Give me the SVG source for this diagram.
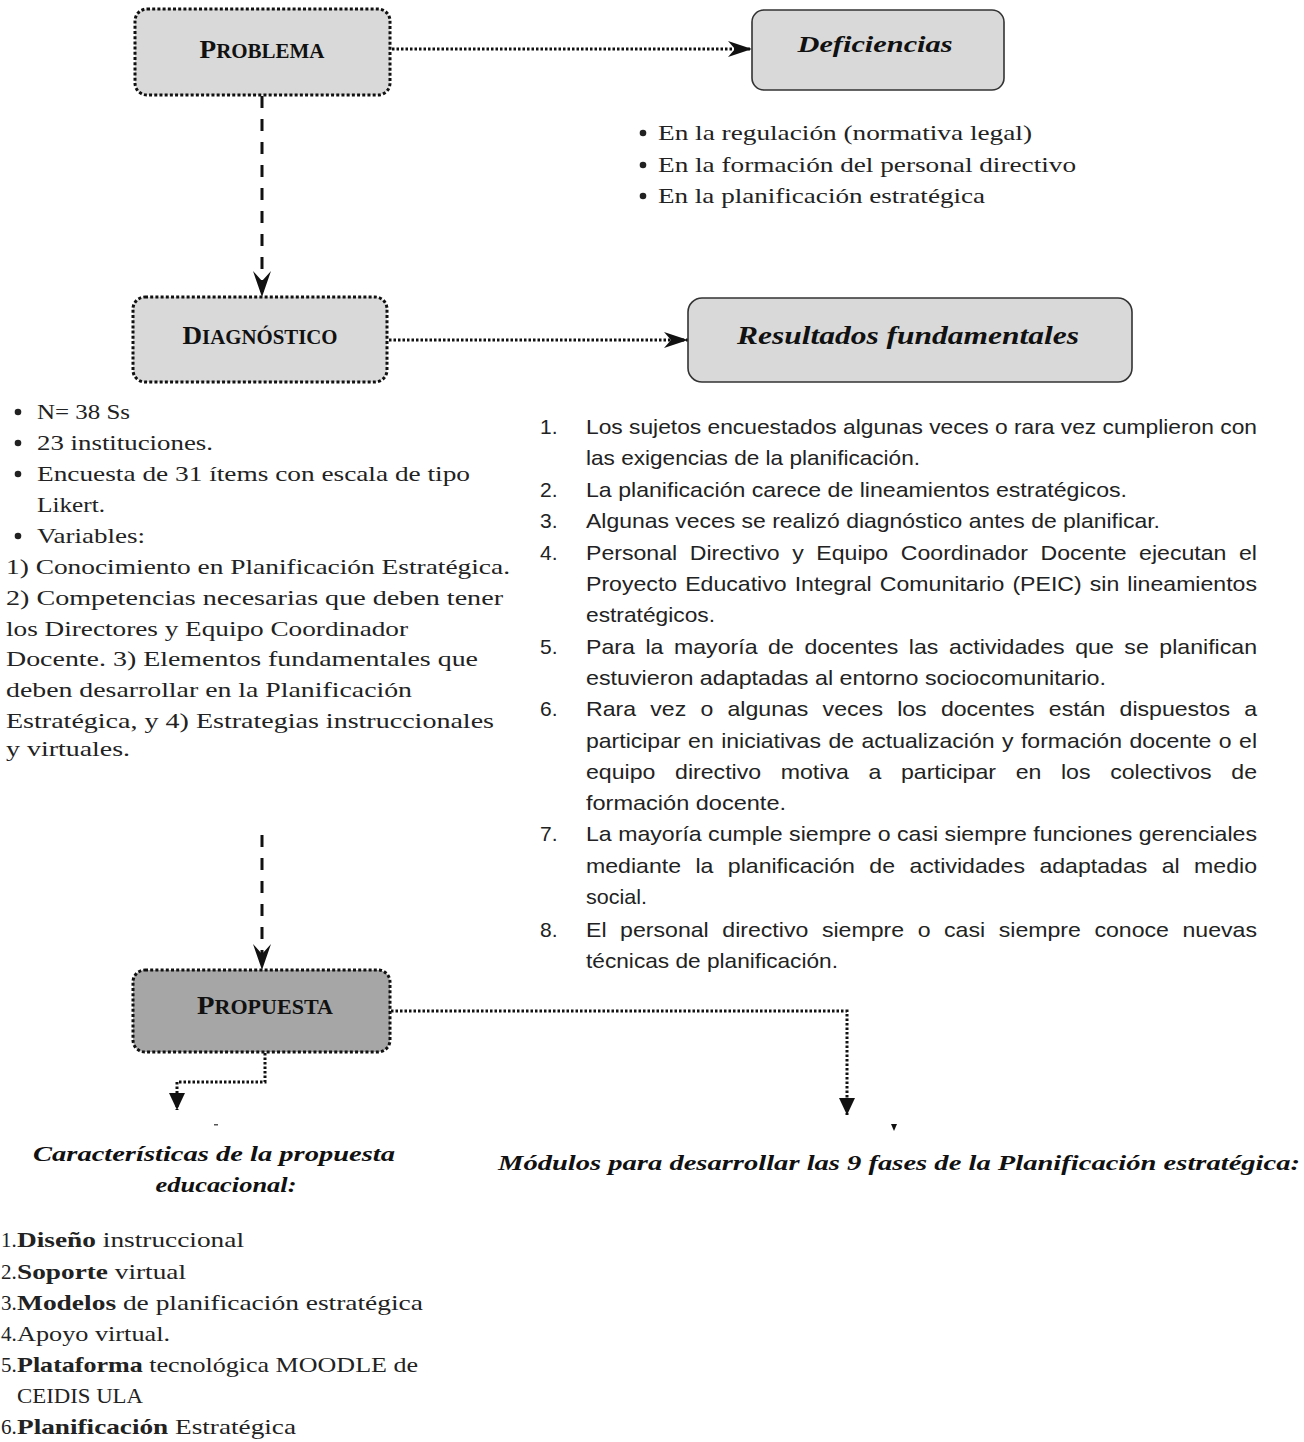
<svg xmlns="http://www.w3.org/2000/svg" width="1304" height="1442" viewBox="0 0 1304 1442">
<style>
.box{fill:#d9d9d9;stroke:#111;stroke-width:3;stroke-dasharray:3 2.2}
.boxd{fill:#a6a6a6;stroke:#111;stroke-width:3;stroke-dasharray:3 2.2}
.sbox{fill:#d9d9d9;stroke:#333;stroke-width:1.6}
.title{font-family:"Liberation Serif",serif;font-weight:bold;fill:#111;text-anchor:middle}
.ital{font-family:"Liberation Serif",serif;font-weight:bold;font-style:italic;fill:#111}
.ser{font-family:"Liberation Serif",serif;font-size:21px;fill:#222}
.sans{font-family:"Liberation Sans",sans-serif;font-size:21px;fill:#222}
.dot{fill:none;stroke:#111;stroke-width:3;stroke-dasharray:2.5 2}
.dash{fill:none;stroke:#111;stroke-width:3;stroke-dasharray:12 11}
.bul{fill:#222}
</style>
<defs>
<marker id="stealth" markerUnits="userSpaceOnUse" markerWidth="26" markerHeight="16" refX="24" refY="8" orient="auto">
<path d="M0,0 L24,8 L0,16 L7,8 Z" fill="#111"/>
</marker>
<marker id="barb" markerUnits="userSpaceOnUse" markerWidth="28" markerHeight="18" refX="26" refY="9" orient="auto">
<path d="M0,0 L26,9 L0,18 L10,9 Z" fill="#111"/>
</marker>
<marker id="tri" markerUnits="userSpaceOnUse" markerWidth="18" markerHeight="16" refX="17" refY="8" orient="auto">
<path d="M0,0 L17,8 L0,16 Z" fill="#111"/>
</marker>
</defs>

<g id="connectors">
<path class="dot" d="M392,49 H752" marker-end="url(#stealth)"/>
<path class="dash" d="M262,96 V297" marker-end="url(#barb)"/>
<path class="dot" d="M389,340 H688" marker-end="url(#stealth)"/>
<path class="dash" d="M262,835 V970" marker-end="url(#barb)"/>
<path class="dot" d="M391,1011 H847 V1115" marker-end="url(#tri)"/>
<path class="dot" d="M265,1053 V1082 H177 V1110" marker-end="url(#tri)"/>
</g>

<g id="node-problema">
<rect class="box" x="135" y="9" width="255" height="86" rx="12"/>
<text class="title" x="262" y="58" textLength="125" lengthAdjust="spacingAndGlyphs"><tspan font-size="26">P</tspan><tspan font-size="20">ROBLEMA</tspan></text>
</g>

<g id="node-deficiencias">
<rect class="sbox" x="752" y="10" width="252" height="80" rx="12"/>
<text class="ital" x="875" y="52" font-size="23" text-anchor="middle" textLength="155" lengthAdjust="spacingAndGlyphs">Deficiencias</text>
</g>

<g id="deficiencias-list">
<circle class="bul" cx="643" cy="133" r="3.3"/>
<text class="ser" x="658" y="140" textLength="374" lengthAdjust="spacingAndGlyphs">En la regulación (normativa legal)</text>
<circle class="bul" cx="643" cy="165" r="3.3"/>
<text class="ser" x="658" y="172" textLength="418" lengthAdjust="spacingAndGlyphs">En la formación del personal directivo</text>
<circle class="bul" cx="643" cy="196" r="3.3"/>
<text class="ser" x="658" y="203" textLength="327" lengthAdjust="spacingAndGlyphs">En la planificación estratégica</text>
</g>

<g id="node-diagnostico">
<rect class="box" x="133" y="297" width="254" height="85" rx="12"/>
<text class="title" x="260" y="344" textLength="155" lengthAdjust="spacingAndGlyphs"><tspan font-size="26">D</tspan><tspan font-size="20">IAGNÓSTICO</tspan></text>
</g>

<g id="node-resultados">
<rect class="sbox" x="688" y="298" width="444" height="84" rx="14"/>
<text class="ital" x="908" y="344" font-size="25" text-anchor="middle" textLength="342" lengthAdjust="spacingAndGlyphs">Resultados fundamentales</text>
</g>

<g id="diagnostico-list">
<circle class="bul" cx="18" cy="412" r="3.3"/>
<text class="ser" x="37" y="419" textLength="93" lengthAdjust="spacingAndGlyphs">N= 38 Ss</text>
<circle class="bul" cx="18" cy="443" r="3.3"/>
<text class="ser" x="37" y="450" textLength="176" lengthAdjust="spacingAndGlyphs">23 instituciones.</text>
<circle class="bul" cx="18" cy="474" r="3.3"/>
<text class="ser" x="37" y="481" textLength="433" lengthAdjust="spacingAndGlyphs">Encuesta de 31 ítems con escala de tipo</text>
<text class="ser" x="37" y="512" textLength="68" lengthAdjust="spacingAndGlyphs">Likert.</text>
<circle class="bul" cx="18" cy="536" r="3.3"/>
<text class="ser" x="37" y="543" textLength="108" lengthAdjust="spacingAndGlyphs">Variables:</text>
<text class="ser" x="6" y="574" textLength="504" lengthAdjust="spacingAndGlyphs">1) Conocimiento en Planificación Estratégica.</text>
<text class="ser" x="6" y="605" textLength="497" lengthAdjust="spacingAndGlyphs">2) Competencias necesarias que deben tener</text>
<text class="ser" x="6" y="636" textLength="402" lengthAdjust="spacingAndGlyphs">los Directores y Equipo Coordinador</text>
<text class="ser" x="6" y="666" textLength="472" lengthAdjust="spacingAndGlyphs">Docente.  3) Elementos fundamentales que</text>
<text class="ser" x="6" y="697" textLength="406" lengthAdjust="spacingAndGlyphs">deben desarrollar en la Planificación</text>
<text class="ser" x="6" y="728" textLength="488" lengthAdjust="spacingAndGlyphs">Estratégica, y  4) Estrategias instruccionales</text>
<text class="ser" x="6" y="756" textLength="124" lengthAdjust="spacingAndGlyphs">y virtuales.</text>
</g>

<g id="resultados-list">
<text class="sans" x="540" y="434">1.</text>
<text class="sans" x="586" y="434" textLength="671" lengthAdjust="spacingAndGlyphs">Los sujetos encuestados algunas veces o rara vez cumplieron con</text>
<text class="sans" x="586" y="465" textLength="334" lengthAdjust="spacingAndGlyphs">las exigencias de la planificación.</text>
<text class="sans" x="540" y="497">2.</text>
<text class="sans" x="586" y="497" textLength="541" lengthAdjust="spacingAndGlyphs">La planificación carece de lineamientos estratégicos.</text>
<text class="sans" x="540" y="528">3.</text>
<text class="sans" x="586" y="528" textLength="574" lengthAdjust="spacingAndGlyphs">Algunas veces se realizó diagnóstico antes de planificar.</text>
<text class="sans" x="540" y="560">4.</text>
<text class="sans" x="586" y="560" word-spacing="5.6" textLength="671" lengthAdjust="spacingAndGlyphs">Personal Directivo y Equipo Coordinador Docente ejecutan el</text>
<text class="sans" x="586" y="591" word-spacing="1.5" textLength="671" lengthAdjust="spacingAndGlyphs">Proyecto Educativo Integral Comunitario (PEIC) sin lineamientos</text>
<text class="sans" x="586" y="622" textLength="129" lengthAdjust="spacingAndGlyphs">estratégicos.</text>
<text class="sans" x="540" y="654">5.</text>
<text class="sans" x="586" y="654" word-spacing="3.8" textLength="671" lengthAdjust="spacingAndGlyphs">Para la mayoría de docentes las actividades que se planifican</text>
<text class="sans" x="586" y="685" textLength="520" lengthAdjust="spacingAndGlyphs">estuvieron adaptadas al entorno sociocomunitario.</text>
<text class="sans" x="540" y="716">6.</text>
<text class="sans" x="586" y="716" word-spacing="7.1" textLength="671" lengthAdjust="spacingAndGlyphs">Rara vez o algunas veces los docentes están dispuestos a</text>
<text class="sans" x="586" y="748" word-spacing="1" textLength="671" lengthAdjust="spacingAndGlyphs">participar en iniciativas de actualización y formación docente o el</text>
<text class="sans" x="586" y="779" word-spacing="12" textLength="671" lengthAdjust="spacingAndGlyphs">equipo directivo motiva a participar en los colectivos de</text>
<text class="sans" x="586" y="810" textLength="200" lengthAdjust="spacingAndGlyphs">formación docente.</text>
<text class="sans" x="540" y="841">7.</text>
<text class="sans" x="586" y="841" textLength="671" lengthAdjust="spacingAndGlyphs">La mayoría cumple siempre o casi siempre funciones gerenciales</text>
<text class="sans" x="586" y="873" word-spacing="7.3" textLength="671" lengthAdjust="spacingAndGlyphs">mediante la planificación de actividades adaptadas al medio</text>
<text class="sans" x="586" y="904" textLength="61" lengthAdjust="spacingAndGlyphs">social.</text>
<text class="sans" x="540" y="937">8.</text>
<text class="sans" x="586" y="937" word-spacing="6.5" textLength="671" lengthAdjust="spacingAndGlyphs">El personal directivo siempre o casi siempre conoce nuevas</text>
<text class="sans" x="586" y="968" textLength="252" lengthAdjust="spacingAndGlyphs">técnicas de planificación.</text>
</g>

<g id="node-propuesta">
<rect class="boxd" x="133" y="970" width="257" height="82" rx="12"/>
<text class="title" x="265" y="1014" textLength="136" lengthAdjust="spacingAndGlyphs"><tspan font-size="26">P</tspan><tspan font-size="20">ROPUESTA</tspan></text>
</g>

<g id="marks">
<rect x="214" y="1124" width="4" height="1.5" fill="#555"/>
<path d="M891,1124 L897,1124 L894,1131 Z" fill="#111"/>
</g>

<g id="caracteristicas">
<text class="ital" x="214" y="1161" font-size="22" text-anchor="middle" textLength="362" lengthAdjust="spacingAndGlyphs">Características  de la propuesta</text>
<text class="ital" x="226" y="1192" font-size="22" text-anchor="middle" textLength="141" lengthAdjust="spacingAndGlyphs">educacional:</text>
<text class="ser" x="1" y="1247" font-size="19">1.</text>
<text class="ser" x="17" y="1247" textLength="227" lengthAdjust="spacingAndGlyphs"><tspan font-weight="bold">Diseño</tspan> instruccional</text>
<text class="ser" x="1" y="1279" font-size="19">2.</text>
<text class="ser" x="17" y="1279" textLength="169" lengthAdjust="spacingAndGlyphs"><tspan font-weight="bold">Soporte</tspan> virtual</text>
<text class="ser" x="1" y="1310" font-size="19">3.</text>
<text class="ser" x="17" y="1310" textLength="406" lengthAdjust="spacingAndGlyphs"><tspan font-weight="bold">Modelos</tspan> de planificación estratégica</text>
<text class="ser" x="1" y="1341" font-size="19">4.</text>
<text class="ser" x="17" y="1341" textLength="153" lengthAdjust="spacingAndGlyphs">Apoyo virtual.</text>
<text class="ser" x="1" y="1372" font-size="19">5.</text>
<text class="ser" x="17" y="1372" textLength="401" lengthAdjust="spacingAndGlyphs"><tspan font-weight="bold">Plataforma</tspan> tecnológica MOODLE de</text>
<text class="ser" x="17" y="1403" textLength="126" lengthAdjust="spacingAndGlyphs">CEIDIS ULA</text>
<text class="ser" x="1" y="1434" font-size="19">6.</text>
<text class="ser" x="17" y="1434" textLength="279" lengthAdjust="spacingAndGlyphs"><tspan font-weight="bold">Planificación</tspan> Estratégica</text>
</g>

<g id="modulos">
<text class="ital" x="498" y="1170" font-size="22" textLength="802" lengthAdjust="spacingAndGlyphs">Módulos para desarrollar  las 9 fases de la Planificación  estratégica:</text>
</g>
</svg>
